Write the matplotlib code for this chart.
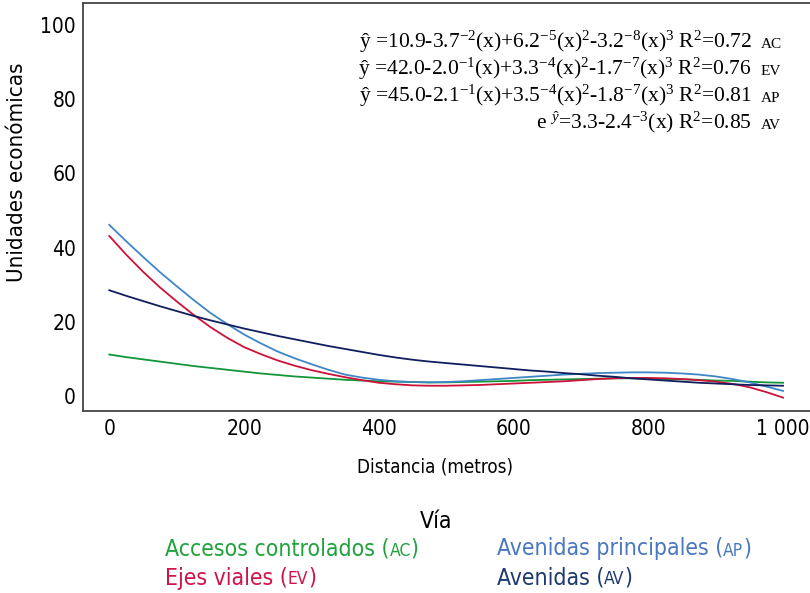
import matplotlib
matplotlib.use('Agg')
import matplotlib.pyplot as plt
from matplotlib.offsetbox import TextArea, HPacker, AnnotationBbox

distancia = [0, 25, 50, 75, 100, 125, 150, 175, 200, 225, 250, 275, 300, 325,
             350, 375, 400, 425, 450, 475, 500, 525, 550, 575, 600, 625, 650,
             675, 700, 725, 750, 775, 800, 825, 850, 875, 900, 925, 950, 975, 1000]
acc_ctrl = [11.2, 10.5, 9.9, 9.3, 8.7, 8.1, 7.6, 7.1, 6.6, 6.1, 5.7, 5.3, 5.0, 4.7,
            4.4, 4.2, 4.0, 3.9, 3.8, 3.7, 3.7, 3.8, 3.9, 4.0, 4.1, 4.3, 4.4,
            4.5, 4.6, 4.7, 4.8, 4.8, 4.7, 4.6, 4.5, 4.4, 4.2, 4.1, 3.9, 3.7, 3.6]
ejes_viales = [43.1, 38.1, 33.5, 29.3, 25.5, 21.9, 18.6, 15.7, 13.2, 11.3, 9.6, 8.2, 7.0, 6.0,
               5.1, 4.3, 3.6, 3.2, 2.9, 2.8, 2.8, 2.9, 3.0, 3.2, 3.4, 3.6, 3.8,
               4.0, 4.3, 4.6, 4.8, 4.9, 4.9, 4.8, 4.6, 4.3, 3.9, 3.3, 2.4, 1.1, -0.4]
av_principales = [46.1, 41.7, 37.5, 33.4, 29.6, 25.9, 22.4, 19.4, 16.6, 14.2, 12.0, 10.2, 8.6, 7.1,
                  5.8, 5.0, 4.4, 4.0, 3.8, 3.7, 3.8, 4.0, 4.3, 4.6, 4.9, 5.2, 5.5,
                  5.8, 6.0, 6.2, 6.3, 6.4, 6.4, 6.3, 6.1, 5.8, 5.3, 4.6, 3.7, 2.6, 1.4]
avenidas = [28.5, 27.0, 25.6, 24.2, 22.9, 21.6, 20.4, 19.3, 18.2, 17.2, 16.2, 15.3, 14.4, 13.5,
            12.7, 11.9, 11.1, 10.4, 9.8, 9.3, 8.9, 8.5, 8.1, 7.7, 7.3, 6.9, 6.6,
            6.2, 5.9, 5.5, 5.2, 4.8, 4.5, 4.2, 3.9, 3.6, 3.4, 3.2, 3.0, 2.9, 2.8]

xticks = [0, 200, 400, 600, 800, 1000]
xtick_labels = ['0', '200', '400', '600', '800', '1 000']
yticks = [0, 20, 40, 60, 80, 100]

ecuaciones = [
    (r'ŷ =10.9-3.7$^{\mathrm{-2}}$(x)+6.2$^{\mathrm{-5}}$(x)$^{2}$-3.2$^{\mathrm{-8}}$(x)$^{3}$ R$^{2}$=0.72', 'AC'),
    (r'ŷ =42.0-2.0$^{\mathrm{-1}}$(x)+3.3$^{\mathrm{-4}}$(x)$^{2}$-1.7$^{\mathrm{-7}}$(x)$^{3}$ R$^{2}$=0.76', 'EV'),
    (r'ŷ =45.0-2.1$^{\mathrm{-1}}$(x)+3.5$^{\mathrm{-4}}$(x)$^{2}$-1.8$^{\mathrm{-7}}$(x)$^{3}$ R$^{2}$=0.81', 'AP'),
    (r'e ${}^{\hat{y}}$=3.3-2.4$^{\mathrm{-3}}$(x) R$^{2}$=0.85', 'AV'),
]

c_ac, c_ev, c_ap, c_av = '#12963a', '#cc1238', '#3f86c6', '#0f1f5e'
t_ac, t_ev, t_ap, t_av = '#22a23c', '#d0144a', '#4a78c0', '#1f3a70'

plt.rcParams['font.family'] = ['DejaVu Sans']
plt.rcParams['font.stretch'] = 'condensed'
plt.rcParams['mathtext.fontset'] = 'custom'
plt.rcParams['mathtext.rm'] = 'Liberation Serif'
plt.rcParams['mathtext.it'] = 'Liberation Serif:italic'

fig = plt.figure(figsize=(8.1, 5.93), dpi=100)
ax = fig.add_axes([83 / 810, 1 - 411 / 593, 1 - 83 / 810, (411 - 3) / 593])

ax.plot(distancia, acc_ctrl, color=c_ac, lw=1.3)
ax.plot(distancia, ejes_viales, color=c_ev, lw=1.3)
ax.plot(distancia, av_principales, color=c_ap, lw=1.3)
ax.plot(distancia, avenidas, color=c_av, lw=1.3)

ax.set_xlim(-39, 1040)
ax.set_ylim(-4, 105.8)
ax.set_xticks(xticks)
ax.set_xticklabels(xtick_labels)
ax.set_yticks(yticks)
ax.tick_params(length=0, labelsize=15)
ax.tick_params(axis='y', pad=5)
ax.tick_params(axis='x', pad=6)
ax.spines['right'].set_visible(False)
for s in ['left', 'bottom', 'top']:
    ax.spines[s].set_color('#444444')
    ax.spines[s].set_linewidth(1.3)

ax.set_ylabel('Unidades económicas', fontsize=16, va='center')
ax.yaxis.set_label_coords(-0.091, 0.586)
ax.set_xlabel('Distancia (metros)', fontsize=13.5, va='center')
ax.xaxis.set_label_coords(0.484, -0.137)

bases = [48, 75, 102, 129]
for (eq, tag), yb in zip(ecuaciones, bases):
    fig.text(752 / 810, 1 - yb / 593, eq, ha='right', va='baseline',
             fontsize=15.5, family='Liberation Serif')
    fig.text(761 / 810, 1 - yb / 593, tag, ha='left', va='baseline',
             fontsize=11, family='Liberation Serif')

# leyenda "Vía"
fig.text(436 / 810, 1 - 522 / 593, 'Vía', ha='center', va='center', fontsize=16.5)

entradas = [
    ('Accesos controlados (', 'AC', t_ac, 165, 549),
    ('Ejes viales (', 'EV', t_ev, 165, 578),
    ('Avenidas principales (', 'AP', t_ap, 497, 549),
    ('Avenidas (', 'AV', t_av, 497, 578),
]
for texto, sigla, col, px, py in entradas:
    big = dict(color=col, fontsize=16.5)
    small = dict(color=col, fontsize=12.5)
    box = HPacker(children=[TextArea(texto, textprops=big),
                            TextArea(sigla, textprops=small),
                            TextArea(')', textprops=big)],
                  align='baseline', pad=0, sep=0)
    ab = AnnotationBbox(box, (px, 593 - py), xycoords='figure pixels',
                        box_alignment=(0, 0.5), frameon=False, pad=0)
    fig.add_artist(ab)

plt.savefig('out.png', dpi=100)
